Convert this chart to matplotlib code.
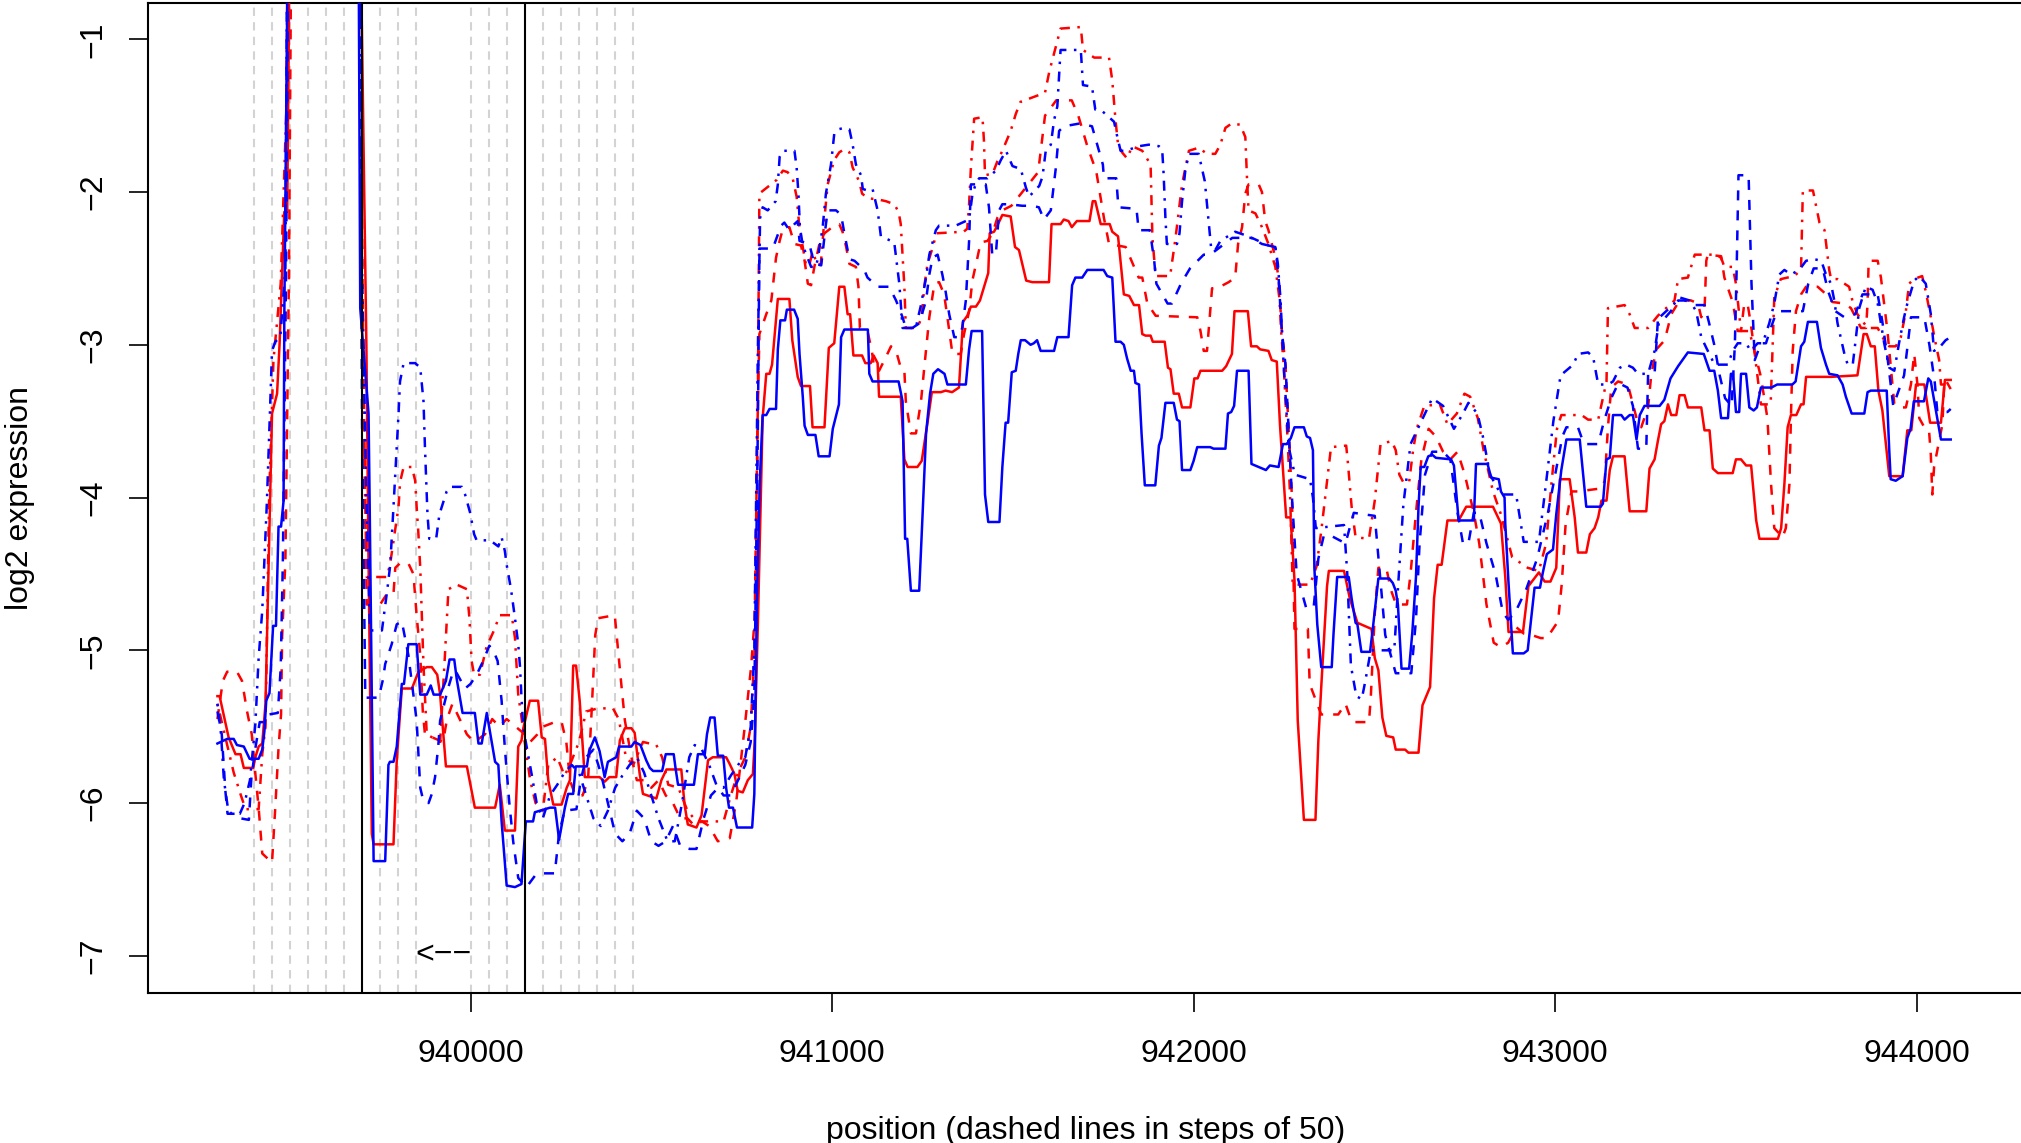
import matplotlib
matplotlib.use("Agg")
import matplotlib.pyplot as plt
import numpy as np

# ---------------- data (position, log2 expression) ----------------
OFF = 1.0  # value above the visible range (clipped spike)

red_solid_x = [939300,939306,939331,939350,939364,939373,939399,939405,939414,939424,939433,939442,939451,939465,939472,939485,939493,939505,939688,939712,939718,939727,939732,939787,939796,939810,939838,939856,939879,939893,939908,939916,939932,939990,940012,940068,940081,940095,940123,940132,940141,940146,940164,940187,940197,940206,940215,940229,940252,940266,940275,940284,940292,940302,940316,940357,940371,940384,940403,940413,940427,940445,940454,940468,940477,940514,940528,940542,940583,940592,940601,940625,940639,940657,940670,940707,940716,940730,940739,940753,940767,940781,940786,940795,940808,940818,940827,940834,940850,940882,940890,940905,940914,940939,940946,940979,940991,941006,941020,941034,941043,941050,941059,941083,941092,941107,941115,941126,941130,941190,941200,941209,941236,941248,941264,941276,941301,941314,941332,941351,941362,941374,941384,941398,941409,941423,941432,941436,941448,941457,941471,941494,941506,941517,941537,941554,941600,941607,941632,941641,941654,941663,941677,941712,941721,941728,941743,941768,941775,941791,941807,941822,941835,941849,941858,941867,941881,941887,941920,941929,941936,941945,941959,941968,941991,942002,942011,942019,942079,942090,942106,942113,942150,942159,942175,942184,942207,942216,942230,942239,942256,942268,942279,942288,942305,942337,942345,942353,942369,942374,942416,942432,942453,942492,942501,942511,942522,942533,942552,942559,942585,942594,942622,942633,942654,942665,942675,942686,942702,942733,942754,942828,942850,942862,942871,942911,942926,942955,942971,942987,943003,943013,943040,943054,943063,943086,943096,943109,943119,943128,943142,943151,943160,943192,943206,943252,943261,943275,943284,943293,943302,943312,943321,943335,943344,943358,943367,943404,943413,943427,943436,943450,943491,943500,943514,943528,943542,943556,943565,943616,943625,943634,943643,943652,943667,943680,943687,943694,943763,943836,943853,943862,943873,943884,943894,943905,943924,943961,943974,943985,943998,944021,944037,944067,944078,944094]
red_solid_y = [-5.30,-5.30,-5.57,-5.68,-5.68,-5.77,-5.77,-5.70,-5.63,-5.61,-5.35,-4.41,-3.45,-3.32,-2.99,-2.13,-2.13,OFF,OFF,-3.0,-4.41,-6.20,-6.27,-6.27,-5.72,-5.25,-5.25,-5.14,-5.11,-5.11,-5.16,-5.29,-5.76,-5.76,-6.03,-6.03,-5.88,-6.18,-6.18,-5.63,-5.59,-5.51,-5.33,-5.33,-5.57,-5.58,-5.85,-6.01,-6.01,-5.90,-5.85,-5.10,-5.10,-5.33,-5.83,-5.83,-5.86,-5.83,-5.83,-5.59,-5.51,-5.51,-5.54,-5.81,-5.94,-5.97,-5.85,-5.78,-5.78,-6.01,-6.14,-6.16,-6.08,-5.72,-5.70,-5.70,-5.74,-5.81,-5.92,-5.93,-5.85,-5.81,-5.60,-4.81,-3.48,-3.19,-3.19,-3.13,-2.70,-2.70,-2.97,-3.21,-3.27,-3.27,-3.54,-3.54,-3.02,-2.99,-2.62,-2.62,-2.80,-2.80,-3.07,-3.07,-3.12,-3.12,-3.07,-3.12,-3.34,-3.34,-3.75,-3.80,-3.80,-3.76,-3.51,-3.31,-3.31,-3.30,-3.31,-3.28,-2.85,-2.81,-2.75,-2.75,-2.71,-2.60,-2.53,-2.27,-2.26,-2.22,-2.15,-2.16,-2.36,-2.38,-2.58,-2.59,-2.59,-2.21,-2.21,-2.18,-2.19,-2.23,-2.19,-2.19,-2.06,-2.06,-2.21,-2.21,-2.26,-2.29,-2.67,-2.68,-2.74,-2.74,-2.93,-2.94,-2.94,-2.98,-2.98,-3.15,-3.16,-3.32,-3.32,-3.41,-3.41,-3.22,-3.22,-3.17,-3.17,-3.14,-3.06,-2.78,-2.78,-3.01,-3.01,-3.03,-3.04,-3.10,-3.11,-3.53,-4.13,-4.13,-4.54,-5.46,-6.11,-6.11,-5.59,-5.24,-4.58,-4.48,-4.48,-4.66,-4.82,-4.86,-5.05,-5.13,-5.44,-5.56,-5.57,-5.65,-5.65,-5.67,-5.67,-5.36,-5.24,-4.66,-4.44,-4.44,-4.15,-4.15,-4.06,-4.06,-4.17,-4.52,-4.88,-4.88,-4.58,-4.49,-4.55,-4.55,-4.46,-3.88,-3.88,-4.13,-4.36,-4.36,-4.24,-4.20,-4.13,-4.02,-4.02,-3.82,-3.73,-3.73,-4.09,-4.09,-3.81,-3.75,-3.63,-3.52,-3.50,-3.39,-3.46,-3.46,-3.33,-3.33,-3.41,-3.41,-3.56,-3.56,-3.81,-3.84,-3.84,-3.75,-3.75,-3.79,-3.79,-4.15,-4.27,-4.27,-4.20,-3.91,-3.54,-3.46,-3.46,-3.39,-3.39,-3.21,-3.21,-3.20,-2.93,-2.93,-3.01,-3.01,-3.30,-3.43,-3.86,-3.86,-3.56,-3.56,-3.26,-3.26,-3.51,-3.51,-3.23,-3.23]

red_dashed_x = [939300,939315,939327,939354,939368,939382,939395,939405,939414,939424,939451,939460,939469,939476,939479,939488,939498,939508,939688,939703,939713,939750,939769,939787,939792,939805,939828,939842,939851,939861,939868,939874,939924,939935,939950,939970,939990,940010,940040,940060,940080,940100,940125,940150,940165,940185,940200,940233,940252,940265,940275,940290,940310,940325,940335,940345,940353,940399,940417,940427,940445,940460,940480,940500,940520,940540,940560,940580,940600,940620,940640,940660,940684,940717,940735,940758,940776,940786,940794,940799,940818,940832,940845,940855,940864,940882,940896,940914,940924,940933,940942,940951,940965,940979,941011,941020,941029,941039,941048,941066,941073,941077,941098,941110,941117,941130,941149,941163,941177,941190,941200,941204,941218,941232,941246,941255,941269,941283,941296,941310,941319,941333,941356,941365,941379,941388,941402,941411,941430,941444,941457,941471,941496,941570,941589,941620,941663,941681,941706,941724,941729,941752,941766,941812,941848,941858,941872,941895,942010,942019,942028,942037,942051,942065,942097,942115,942123,942134,942143,942152,942180,942189,942198,942207,942226,942235,942244,942254,942263,942272,942279,942316,942321,942353,942400,942420,942435,942443,942485,942490,942501,942511,942533,942545,942560,942590,942600,942615,942630,942650,942670,942690,942710,942730,942750,942775,942790,942810,942830,942850,942870,942893,942913,942935,942960,942977,943008,943018,943029,943045,943063,943128,943137,943146,943155,943174,943201,943215,943225,943238,943257,943266,943280,943303,943321,943344,943376,943395,943404,943413,943418,943422,943459,943468,943491,943505,943514,943523,943532,943541,943551,943569,943587,943597,943606,943629,943638,943648,943652,943657,943666,943680,943694,943726,943745,943767,943800,943818,943846,943860,943864,943867,943892,943901,943919,943938,943956,943970,943984,943993,944002,944007,944021,944034,944039,944043,944048,944062,944071,944076,944080,944094]
red_dashed_y = [-5.45,-5.20,-5.14,-5.14,-5.20,-5.40,-5.55,-5.81,-6.03,-6.33,-6.39,-6.03,-5.64,-5.42,-4.91,-4.41,-2.50,OFF,OFF,-3.0,-4.70,-4.70,-4.63,-4.63,-4.46,-4.43,-4.43,-4.50,-4.77,-5.03,-5.40,-5.55,-5.60,-5.45,-5.35,-5.45,-5.55,-5.60,-5.55,-5.45,-5.50,-5.45,-5.50,-5.55,-5.60,-5.55,-5.50,-5.47,-5.47,-5.60,-5.85,-5.95,-5.95,-5.85,-5.40,-4.90,-4.79,-4.77,-5.22,-5.46,-5.70,-5.85,-5.85,-5.90,-5.85,-5.95,-6.00,-6.10,-6.10,-6.15,-6.12,-6.15,-6.25,-6.23,-5.99,-5.51,-5.11,-4.79,-3.50,-2.93,-2.80,-2.71,-2.43,-2.32,-2.24,-2.23,-2.34,-2.35,-2.45,-2.60,-2.61,-2.49,-2.34,-2.27,-2.21,-2.21,-2.26,-2.36,-2.47,-2.49,-2.62,-2.89,-2.91,-3.04,-3.16,-3.17,-3.08,-3.01,-3.04,-3.15,-3.17,-3.37,-3.58,-3.58,-3.37,-3.15,-2.82,-2.60,-2.59,-2.67,-2.82,-3.06,-3.06,-2.93,-2.78,-2.58,-2.43,-2.33,-2.32,-2.27,-2.17,-2.12,-2.09,-1.87,-1.50,-1.40,-1.40,-1.50,-1.70,-1.82,-1.84,-2.17,-2.34,-2.36,-2.56,-2.56,-2.73,-2.81,-2.82,-2.91,-3.04,-3.04,-2.63,-2.63,-2.59,-2.56,-2.34,-2.23,-2.01,-1.95,-1.95,-2.00,-2.19,-2.25,-2.43,-2.56,-2.91,-3.13,-3.56,-4.00,-4.86,-4.86,-5.22,-5.42,-5.42,-5.35,-5.45,-5.47,-5.47,-5.31,-4.76,-4.46,-4.46,-4.60,-4.70,-4.70,-4.50,-4.10,-3.75,-3.55,-3.60,-3.70,-3.75,-3.70,-3.85,-4.10,-4.30,-4.70,-4.95,-4.98,-4.95,-4.85,-4.89,-4.90,-4.92,-4.92,-4.81,-4.57,-4.17,-3.96,-3.96,-3.94,-3.89,-3.54,-3.28,-3.24,-3.26,-3.39,-3.48,-3.54,-3.41,-3.19,-3.03,-2.97,-2.80,-2.71,-2.71,-2.73,-2.82,-2.78,-2.45,-2.41,-2.42,-2.56,-2.72,-2.91,-2.91,-2.73,-2.73,-2.86,-3.04,-3.21,-3.48,-3.91,-4.20,-4.26,-4.20,-3.91,-3.48,-3.04,-2.78,-2.67,-2.62,-2.62,-2.66,-2.72,-2.73,-2.76,-2.89,-2.89,-2.73,-2.45,-2.45,-2.56,-2.91,-3.39,-3.41,-3.41,-3.26,-3.06,-3.26,-3.48,-3.54,-3.56,-3.72,-3.98,-3.80,-3.63,-3.52,-3.26,-3.23,-3.29]

red_dotdash_x = [939300,939320,939345,939365,939378,939414,939424,939433,939437,939443,939455,939475,939490,939500,939688,939700,939713,939769,939778,939801,939805,939815,939838,939847,939851,939856,939861,939870,939879,939916,939930,939939,939962,939990,939997,940003,940010,940026,940035,940044,940063,940081,940114,940123,940132,940141,940150,940165,940180,940200,940215,940240,940260,940275,940300,940320,940353,940394,940410,940430,940450,940477,940514,940530,940547,940575,940600,940625,940700,940720,940740,940760,940775,940790,940799,940836,940847,940864,940877,940891,940902,940910,940919,940928,940937,940946,940960,940969,940979,940988,941006,941020,941034,941048,941057,941075,941083,941098,941130,941149,941172,941184,941190,941195,941200,941204,941232,941241,941248,941255,941264,941276,941289,941364,941374,941379,941384,941393,941416,941420,941423,941444,941457,941471,941494,941508,941521,941589,941601,941632,941688,941694,941725,941766,941775,941784,941791,941802,941816,941830,941858,941881,941886,941895,941935,941950,941968,941987,942014,942037,942060,942074,942088,942106,942129,942143,942148,942152,942171,942189,942207,942226,942237,942242,942249,942254,942261,942267,942274,942322,942340,942353,942380,942422,942427,942437,942448,942485,942501,942517,942548,942559,942569,942580,942596,942607,942617,942638,942681,942702,942728,942749,942765,942786,942802,942828,942850,942881,942924,942955,942975,942990,943005,943017,943073,943091,943119,943142,943146,943192,943206,943220,943257,943284,943330,943340,943367,943386,943441,943459,943468,943491,943500,943514,943537,943551,943569,943596,943606,943624,943661,943680,943685,943713,943731,943745,943758,943763,943781,943813,943823,943836,943864,943892,943910,943924,943942,943956,943970,943979,943992,944015,944025,944039,944048,944062,944067,944094]
red_dotdash_y = [-5.35,-5.55,-5.80,-5.95,-6.04,-6.04,-5.68,-5.50,-4.89,-4.00,-3.10,-2.60,-1.50,OFF,OFF,-3.0,-4.52,-4.52,-4.43,-4.06,-3.90,-3.80,-3.80,-3.89,-4.06,-4.24,-4.46,-5.10,-5.55,-5.60,-5.00,-4.60,-4.57,-4.60,-4.79,-5.07,-5.16,-5.16,-5.07,-4.98,-4.88,-4.77,-4.77,-4.92,-5.29,-5.44,-5.60,-5.85,-6.00,-6.05,-5.75,-5.70,-5.82,-5.75,-5.60,-5.40,-5.38,-5.38,-5.45,-5.70,-5.75,-5.60,-5.62,-5.70,-5.88,-5.90,-6.05,-6.12,-6.12,-5.95,-5.80,-5.70,-5.50,-4.80,-2.01,-1.94,-1.92,-1.86,-1.87,-1.91,-2.03,-2.24,-2.36,-2.48,-2.48,-2.39,-2.48,-2.47,-2.17,-1.95,-1.79,-1.74,-1.72,-1.74,-1.84,-1.93,-2.01,-2.04,-2.05,-2.06,-2.08,-2.13,-2.21,-2.41,-2.62,-2.89,-2.89,-2.86,-2.82,-2.62,-2.47,-2.38,-2.27,-2.26,-2.24,-2.08,-1.84,-1.52,-1.51,-1.66,-1.89,-1.88,-1.80,-1.73,-1.60,-1.49,-1.41,-1.35,-1.21,-0.93,-0.92,-1.07,-1.12,-1.12,-1.27,-1.53,-1.69,-1.74,-1.78,-1.70,-1.73,-1.82,-2.30,-2.55,-2.55,-2.30,-1.95,-1.73,-1.71,-1.75,-1.75,-1.69,-1.58,-1.55,-1.56,-1.64,-1.93,-2.12,-2.14,-2.23,-2.34,-2.49,-2.69,-2.91,-3.13,-3.35,-3.67,-4.00,-4.57,-4.57,-4.45,-4.22,-3.67,-3.66,-3.78,-4.06,-4.26,-4.27,-4.02,-3.65,-3.63,-3.69,-3.85,-3.90,-3.90,-3.69,-3.55,-3.40,-3.39,-3.52,-3.45,-3.32,-3.34,-3.48,-3.69,-3.96,-4.11,-4.39,-4.46,-4.48,-4.30,-3.90,-3.55,-3.46,-3.46,-3.49,-3.49,-3.24,-2.76,-2.74,-2.80,-2.89,-2.89,-2.81,-2.71,-2.57,-2.56,-2.41,-2.41,-2.43,-2.49,-2.49,-2.60,-2.91,-2.91,-3.04,-3.39,-3.39,-2.69,-2.57,-2.55,-2.51,-1.99,-1.99,-2.20,-2.25,-2.51,-2.57,-2.57,-2.62,-2.72,-2.80,-2.89,-2.89,-2.97,-3.01,-3.01,-2.95,-2.78,-2.60,-2.57,-2.55,-2.65,-2.82,-2.94,-3.10,-3.26,-3.26]

blue_solid_x = [939300,939327,939345,939354,939373,939389,939414,939424,939430,939435,939444,939454,939462,939469,939476,939483,939485,939500,939688,939695,939718,939721,939732,939764,939773,939777,939787,939796,939810,939816,939828,939851,939861,939879,939890,939898,939916,939932,939942,939955,939962,939978,940012,940022,940031,940045,940068,940077,940086,940100,940123,940141,940153,940173,940178,940220,940234,940245,940261,940270,940284,940291,940322,940328,940344,940357,940371,940380,940403,940411,940445,940454,940470,940486,940496,940505,940530,940540,940562,940567,940574,940618,940629,940648,940654,940663,940675,940684,940699,940707,940715,940726,940737,940779,940785,940792,940800,940808,940818,940827,940845,940850,940857,940870,940875,940895,940905,940910,940919,940924,940933,940954,940963,940993,941002,941019,941025,941034,941099,941103,941112,941184,941195,941202,941208,941218,941241,941250,941260,941271,941280,941293,941311,941319,941370,941379,941386,941415,941423,941432,941463,941471,941480,941487,941497,941508,941515,941522,941534,941549,941558,941567,941577,941614,941623,941654,941664,941673,941692,941706,941751,941761,941775,941784,941798,941807,941816,941826,941835,941839,941849,941856,941865,941894,941904,941911,941922,941945,941954,941961,941968,941991,942000,942010,942046,942055,942088,942095,942104,942112,942120,942152,942160,942200,942211,942235,942247,942258,942269,942279,942305,942313,942322,942330,942334,942342,942353,942382,942387,942397,942429,942437,942448,942453,942464,942488,942496,942511,942541,942551,942559,942565,942575,942596,942605,942615,942622,942628,942638,942649,942660,942670,942712,942720,942733,942775,942781,942813,942823,942844,942850,942860,942862,942871,942883,942913,942924,942932,942943,942958,942966,942977,942994,943003,943017,943031,943068,943086,943126,943132,943142,943151,943160,943183,943192,943206,943215,943225,943234,943247,943257,943289,943302,943319,943340,943367,943411,943427,943440,943450,943459,943478,943486,943492,943500,943509,943514,943528,943537,943549,943558,943569,943598,943614,943656,943665,943680,943689,943699,943724,943735,943749,943758,943781,943795,943804,943820,943855,943864,943873,943917,943924,943928,943942,943961,943974,943983,943992,944020,944032,944039,944053,944067,944094]
blue_solid_y = [-5.61,-5.58,-5.58,-5.62,-5.63,-5.71,-5.71,-5.65,-5.53,-5.33,-5.28,-4.84,-4.84,-4.19,-4.19,-4.02,-2.82,OFF,OFF,-2.76,-3.45,-4.02,-6.38,-6.38,-5.75,-5.73,-5.73,-5.63,-5.22,-5.22,-4.96,-4.96,-5.29,-5.29,-5.23,-5.29,-5.29,-5.20,-5.06,-5.06,-5.19,-5.41,-5.41,-5.61,-5.61,-5.41,-5.73,-5.75,-6.12,-6.54,-6.55,-6.53,-6.12,-6.12,-6.06,-6.03,-6.03,-6.24,-6.03,-5.94,-5.94,-5.76,-5.76,-5.66,-5.57,-5.66,-5.83,-5.73,-5.70,-5.63,-5.63,-5.60,-5.62,-5.72,-5.77,-5.79,-5.79,-5.68,-5.68,-5.77,-5.88,-5.88,-5.68,-5.68,-5.55,-5.44,-5.44,-5.69,-5.69,-5.90,-6.03,-6.03,-6.16,-6.16,-5.94,-4.68,-3.90,-3.46,-3.46,-3.42,-3.42,-3.03,-2.84,-2.84,-2.77,-2.77,-2.83,-3.06,-3.34,-3.53,-3.59,-3.59,-3.73,-3.73,-3.55,-3.39,-2.95,-2.90,-2.90,-3.19,-3.24,-3.24,-3.37,-4.27,-4.27,-4.61,-4.61,-4.13,-3.58,-3.32,-3.19,-3.16,-3.19,-3.26,-3.26,-3.03,-2.91,-2.91,-3.98,-4.16,-4.16,-3.80,-3.51,-3.51,-3.18,-3.17,-3.06,-2.97,-2.97,-3.00,-2.99,-2.97,-3.04,-3.04,-2.95,-2.95,-2.61,-2.56,-2.56,-2.51,-2.51,-2.55,-2.56,-2.98,-2.98,-3.00,-3.09,-3.17,-3.17,-3.25,-3.26,-3.58,-3.92,-3.92,-3.66,-3.61,-3.38,-3.38,-3.49,-3.50,-3.82,-3.82,-3.76,-3.67,-3.67,-3.68,-3.68,-3.45,-3.44,-3.40,-3.17,-3.17,-3.78,-3.82,-3.79,-3.80,-3.65,-3.65,-3.61,-3.54,-3.54,-3.60,-3.61,-3.69,-4.46,-4.83,-5.11,-5.11,-4.89,-4.52,-4.52,-4.66,-4.82,-4.83,-5.01,-5.01,-4.85,-4.53,-4.53,-4.56,-4.61,-4.70,-5.12,-5.12,-4.88,-4.52,-4.06,-3.80,-3.80,-3.73,-3.72,-3.74,-3.75,-3.79,-4.15,-4.15,-3.78,-3.78,-3.87,-3.88,-3.96,-4.00,-4.17,-4.56,-5.02,-5.02,-5.00,-4.83,-4.59,-4.59,-4.49,-4.37,-4.34,-4.11,-3.82,-3.62,-3.62,-4.06,-4.06,-4.04,-3.75,-3.74,-3.46,-3.46,-3.49,-3.46,-3.46,-3.62,-3.46,-3.40,-3.40,-3.40,-3.36,-3.22,-3.14,-3.05,-3.06,-3.17,-3.17,-3.30,-3.48,-3.48,-3.19,-3.19,-3.44,-3.44,-3.19,-3.19,-3.41,-3.43,-3.41,-3.28,-3.28,-3.26,-3.26,-3.24,-3.01,-2.98,-2.85,-2.85,-3.02,-3.13,-3.19,-3.20,-3.26,-3.34,-3.45,-3.45,-3.31,-3.30,-3.30,-3.69,-3.88,-3.89,-3.86,-3.61,-3.55,-3.37,-3.37,-3.22,-3.24,-3.43,-3.62,-3.62]

blue_dashed_x = [939300,939312,939322,939328,939359,939364,939387,939394,939405,939417,939428,939442,939467,939475,939481,939490,939500,939690,939700,939709,939746,939758,939764,939782,939796,939810,939828,939842,939851,939861,939870,939884,939893,939902,939911,939916,939939,939953,939962,939985,940000,940017,940035,940052,940063,940075,940086,940095,940107,940118,940132,940155,940180,940201,940233,940245,940260,940293,940305,940320,940340,940360,940380,940400,940420,940440,940460,940480,940500,940520,940540,940560,940580,940606,940625,940645,940665,940685,940700,940720,940740,940760,940775,940785,940795,940799,940836,940859,940868,940882,940896,940905,940910,940937,940951,940970,940982,940988,941011,941025,941034,941048,941062,941089,941098,941126,941158,941177,941195,941204,941222,941241,941260,941269,941278,941292,941305,941314,941324,941338,941351,941360,941370,941379,941384,941425,941434,941443,941453,941462,941471,941490,941526,941554,941572,941586,941605,941619,941628,941641,941664,941688,941719,941731,941749,941752,941786,941792,941842,941848,941879,941891,941897,941928,941940,941965,941990,942028,942046,942107,942161,942207,942226,942235,942244,942254,942263,942272,942285,942311,942332,942345,942360,942380,942420,942443,942501,942515,942530,942559,942602,942615,942625,942640,942660,942690,942710,942730,942745,942760,942775,942790,942810,942835,942855,942870,942890,942920,942950,942980,943000,943020,943031,943063,943075,943082,943119,943135,943155,943175,943200,943215,943225,943229,943252,943257,943275,943284,943298,943320,943340,943358,943375,943386,943413,943425,943440,943455,943470,943488,943497,943502,943507,943535,943543,943552,943569,943583,943595,943610,943624,943685,943700,943715,943740,943755,943775,943800,943830,943850,943892,943905,943920,943935,943950,943965,943975,943984,944021,944035,944050,944057,944085,944094]
blue_dashed_y = [-5.40,-5.55,-5.92,-6.07,-6.07,-6.10,-6.11,-5.83,-5.64,-5.47,-5.47,-5.42,-5.41,-5.12,-4.41,-2.50,OFF,OFF,-3.50,-5.31,-5.31,-5.19,-5.09,-4.96,-4.83,-4.81,-5.03,-5.29,-5.46,-5.90,-5.99,-6.00,-5.94,-5.83,-5.62,-5.46,-5.24,-5.13,-5.15,-5.25,-5.22,-5.16,-5.07,-4.97,-5.00,-5.07,-5.33,-5.64,-5.99,-6.25,-6.49,-6.55,-6.47,-6.46,-6.46,-6.20,-6.05,-6.04,-5.85,-5.70,-5.65,-5.80,-6.00,-6.20,-6.25,-6.20,-6.05,-6.10,-6.25,-6.28,-6.25,-6.15,-6.28,-6.30,-6.30,-6.10,-5.95,-5.90,-5.95,-5.95,-5.85,-5.75,-5.60,-5.30,-3.50,-2.37,-2.37,-2.22,-2.20,-2.25,-2.21,-2.19,-2.32,-2.34,-2.47,-2.48,-2.23,-2.12,-2.12,-2.15,-2.27,-2.44,-2.45,-2.51,-2.56,-2.62,-2.62,-2.71,-2.82,-2.89,-2.89,-2.86,-2.71,-2.54,-2.43,-2.41,-2.54,-2.65,-2.80,-2.95,-2.95,-2.89,-2.71,-2.32,-1.95,-1.95,-2.10,-2.41,-2.41,-2.12,-2.08,-2.08,-2.09,-2.09,-2.10,-2.18,-2.12,-1.84,-1.60,-1.57,-1.56,-1.55,-1.57,-1.67,-1.82,-1.91,-1.91,-2.10,-2.11,-2.25,-2.25,-2.45,-2.60,-2.73,-2.73,-2.60,-2.50,-2.41,-2.41,-2.30,-2.30,-2.35,-2.36,-2.56,-2.91,-3.13,-3.56,-4.00,-4.50,-4.72,-4.72,-4.40,-4.25,-4.25,-4.30,-4.10,-4.12,-4.50,-4.90,-5.15,-5.15,-4.80,-4.30,-3.85,-3.70,-3.70,-3.75,-4.10,-4.30,-4.30,-4.10,-4.10,-4.30,-4.50,-4.75,-4.80,-4.75,-4.60,-4.40,-4.10,-3.85,-3.60,-3.54,-3.54,-3.62,-3.65,-3.65,-3.50,-3.35,-3.25,-3.28,-3.40,-3.60,-3.68,-3.68,-3.19,-3.19,-2.84,-2.84,-2.78,-2.71,-2.71,-2.72,-2.74,-2.74,-2.85,-3.00,-3.20,-3.35,-3.40,-3.00,-2.50,-1.89,-1.89,-2.60,-3.10,-2.99,-2.99,-2.90,-2.80,-2.78,-2.78,-2.60,-2.50,-2.50,-2.65,-2.78,-2.82,-2.80,-2.67,-2.67,-2.85,-3.10,-3.40,-3.30,-3.20,-3.00,-2.82,-2.82,-3.00,-3.25,-3.44,-3.44,-3.42]

blue_dotdash_x = [939300,939310,939318,939330,939340,939362,939375,939390,939405,939414,939424,939437,939451,939460,939474,939488,939496,939688,939700,939712,939722,939755,939770,939778,939787,939801,939805,939815,939847,939861,939870,939874,939881,939886,939905,939914,939934,939943,939976,939985,939999,940010,940017,940054,940077,940086,940095,940100,940112,940123,940132,940137,940141,940146,940169,940183,940200,940220,940240,940260,940280,940300,940320,940340,940360,940380,940400,940420,940440,940460,940480,940500,940520,940545,940565,940585,940605,940620,940640,940660,940680,940700,940720,940740,940760,940775,940785,940795,940801,940808,940822,940844,940850,940855,940864,940896,940902,940907,940911,940919,940942,940956,940963,940974,940983,940997,941006,941016,941034,941048,941057,941066,941080,941085,941098,941112,941126,941135,941145,941172,941186,941195,941232,941236,941245,941260,941269,941287,941296,941342,941379,941388,941398,941407,941430,941453,941467,941481,941499,941522,941536,941545,941573,941582,941591,941605,941614,941623,941632,941688,941694,941719,941728,941747,941761,941780,941789,941798,941812,941849,941876,941904,941913,941917,941922,941926,941954,941961,941968,941977,941987,942014,942031,942037,942044,942049,942060,942074,942115,942152,942189,942226,942233,942240,942249,942263,942280,942322,942330,942338,942416,942425,942435,942450,942465,942475,942490,942555,942565,942580,942600,942630,942660,942690,942720,942745,942760,942785,942800,942820,942850,942892,942913,942955,942975,942995,943015,943050,943063,943091,943105,943119,943146,943160,943179,943197,943215,943229,943257,943275,943289,943307,943330,943344,943372,943390,943404,943418,943441,943478,943491,943505,943528,943541,943560,943574,943592,943606,943620,943634,943652,943675,943694,943717,943736,943749,943763,943772,943781,943800,943809,943823,943832,943841,943859,943878,943892,943910,943924,943938,943951,943965,943974,943984,943993,944007,944025,944039,944048,944062,944080,944094]
blue_dotdash_y = [-5.35,-5.55,-5.85,-6.05,-6.07,-6.07,-6.00,-5.85,-5.48,-5.05,-4.74,-4.02,-3.04,-2.98,-2.95,-2.50,OFF,OFF,-2.50,-4.00,-4.87,-4.87,-4.60,-4.44,-4.06,-3.45,-3.24,-3.12,-3.12,-3.15,-3.37,-3.67,-4.11,-4.27,-4.27,-4.11,-3.96,-3.93,-3.93,-3.98,-4.10,-4.24,-4.28,-4.28,-4.32,-4.26,-4.35,-4.44,-4.60,-4.79,-4.96,-5.11,-5.31,-5.51,-5.81,-6.00,-6.10,-5.95,-5.88,-5.80,-5.75,-5.80,-5.95,-6.10,-6.15,-6.05,-5.90,-5.82,-5.75,-5.70,-5.80,-5.95,-6.10,-6.25,-6.25,-6.00,-5.70,-5.62,-5.65,-5.75,-5.88,-5.90,-5.82,-5.75,-5.70,-5.50,-5.00,-3.00,-2.17,-2.10,-2.12,-2.06,-1.95,-1.77,-1.73,-1.73,-1.84,-2.01,-2.23,-2.35,-2.49,-2.49,-2.40,-2.23,-2.01,-1.82,-1.62,-1.59,-1.58,-1.59,-1.69,-1.82,-1.89,-1.98,-1.99,-1.98,-2.12,-2.29,-2.30,-2.33,-2.60,-2.89,-2.89,-2.84,-2.75,-2.56,-2.41,-2.25,-2.22,-2.22,-2.18,-2.02,-1.94,-1.91,-1.91,-1.86,-1.79,-1.73,-1.83,-1.85,-1.97,-2.03,-1.96,-1.90,-1.73,-1.69,-1.53,-1.44,-1.07,-1.07,-1.30,-1.31,-1.46,-1.47,-1.50,-1.54,-1.64,-1.73,-1.73,-1.70,-1.69,-1.70,-1.72,-1.88,-2.17,-2.34,-2.34,-2.27,-2.06,-1.86,-1.75,-1.75,-1.93,-2.08,-2.26,-2.38,-2.38,-2.32,-2.26,-2.29,-2.34,-2.36,-2.47,-2.69,-3.13,-3.67,-3.85,-3.88,-4.00,-4.20,-4.18,-4.50,-5.10,-5.30,-5.32,-5.20,-5.00,-5.00,-4.60,-4.05,-3.65,-3.50,-3.35,-3.40,-3.55,-3.45,-3.38,-3.45,-3.60,-3.85,-3.98,-3.98,-4.29,-4.29,-3.90,-3.50,-3.20,-3.13,-3.06,-3.05,-3.08,-3.26,-3.26,-3.24,-3.15,-3.13,-3.15,-3.19,-3.19,-3.04,-2.82,-2.78,-2.73,-2.69,-2.71,-2.78,-2.95,-3.02,-3.13,-3.13,-3.04,-2.99,-2.99,-3.04,-2.99,-2.99,-2.86,-2.73,-2.54,-2.51,-2.54,-2.51,-2.45,-2.44,-2.45,-2.54,-2.60,-2.71,-2.86,-3.06,-3.13,-3.13,-2.95,-2.76,-2.62,-2.64,-2.73,-2.99,-3.15,-3.17,-2.99,-2.82,-2.73,-2.65,-2.58,-2.55,-2.60,-2.80,-3.04,-3.02,-2.97,-2.95]

# reference marks
grey_lines = [939400,939450,939500,939550,939600,939650,939750,939800,939850,
              940000,940050,940100,940200,940250,940300,940350,940400,940450]
black_lines = [939700, 940150]
x_ticks = [940000, 941000, 942000, 943000, 944000]
y_ticks = [-1, -2, -3, -4, -5, -6, -7]
arrow_text = "<\u2212\u2212"
arrow_pos = (939925, -7.0)

# ---------------- plotting ----------------
plt.rcParams['font.family'] = ['Liberation Sans', 'DejaVu Sans']
fig = plt.figure(figsize=(20.21, 11.43), dpi=100)
# plot region: left edge at 148 px, right edge just past the image border (2022 px)
ax = fig.add_axes([148/2021, 1-992.5/1143, (2022.3-148)/2021, (992.5-2.6)/1143])

LW = 1.8
DASH = (0, (4, 4))
DOTDASH = (0, (1, 3, 4, 3))
FS = 23

for gx in grey_lines:
    ax.axvline(gx, color='#d3d3d3', lw=1.5, ls=(0, (4, 3)), zorder=1)

series = [
    (red_solid_x, red_solid_y, 'red', '-'),
    (red_dashed_x, red_dashed_y, 'red', DASH),
    (red_dotdash_x, red_dotdash_y, 'red', DOTDASH),
    (blue_solid_x, blue_solid_y, 'blue', '-'),
    (blue_dashed_x, blue_dashed_y, 'blue', DASH),
    (blue_dotdash_x, blue_dotdash_y, 'blue', DOTDASH),
]
for xs, ys, c, ls in series:
    ax.plot(xs, ys, color=c, lw=LW, ls=ls, zorder=3,
            solid_joinstyle='round', dash_capstyle='butt')

for bx in black_lines:
    ax.axvline(bx, color='black', lw=1.5, zorder=4)

ax.text(arrow_pos[0], arrow_pos[1], arrow_text, ha='center', va='center', fontsize=FS)

xmin, xmax = 939300, 944100
ymin, ymax = -7, -1
dx = (xmax - xmin) * 0.04
dy = (ymax - ymin) * 0.04
ax.set_xlim(xmin - dx, xmax + dx)
ax.set_ylim(ymin - dy, ymax + dy)

ax.set_xticks(x_ticks)
ax.set_xticklabels([str(t) for t in x_ticks])
ax.set_yticks(y_ticks)
ax.set_yticklabels([str(t).replace('-', '\u2212') for t in y_ticks], rotation=90, va='center')
ax.tick_params(axis='both', direction='out', length=13.5, width=1.2, labelsize=FS)
ax.tick_params(axis='x', pad=20)
ax.tick_params(axis='y', pad=15)
for s in ax.spines.values():
    s.set_linewidth(1.5)

ax.set_xlabel("position (dashed lines in steps of 50)", fontsize=FS, labelpad=34)
ax.set_ylabel("log2 expression", fontsize=FS, labelpad=31)

fig.savefig("out.png", dpi=100)
